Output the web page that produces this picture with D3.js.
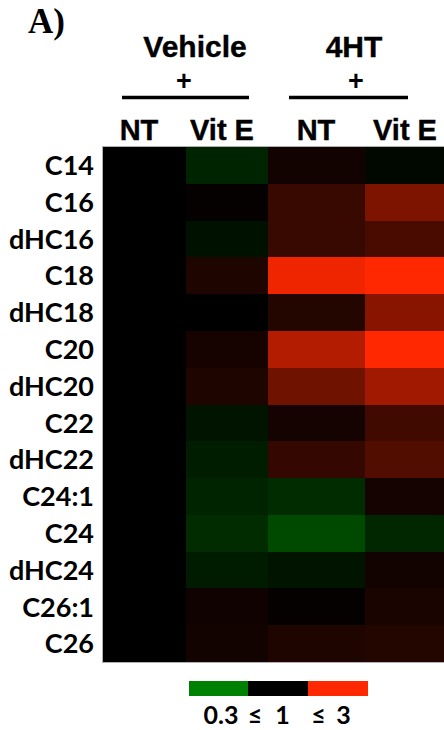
<!DOCTYPE html>
<html><head><meta charset="utf-8">
<script src="https://cdn.jsdelivr.net/npm/d3@7/dist/d3.min.js"></script>
<style>html,body{margin:0;padding:0;background:#fff;overflow:hidden}</style>
</head><body><svg id="chart" width="444" height="730"></svg>
<script>
// ---- data ----
const rows = ["C14","C16","dHC16","C18","dHC18","C20","dHC20","C22","dHC22","C24:1","C24","dHC24","C26:1","C26"];
const columns = ["NT","Vit E","NT","Vit E"];
const groups = ["Vehicle","4HT"];
// fold change vs Vehicle NT
const vehicleNT  = [1,1,1,1,1,1,1,1,1,1,1,1,1,1];
const vehicleVitE = [0.72,1.02,0.85,1.14,1.0,1.10,1.14,0.83,0.76,0.72,0.66,0.77,1.07,1.08];
const ht4NT      = [1.08,1.27,1.27,2.8,1.17,2.16,1.62,1.09,1.25,0.66,0.5,0.83,1.02,1.14];
const ht4VitE    = [0.93,1.71,1.37,3.0,1.79,3.0,2.0,1.32,1.41,1.09,0.69,1.08,1.12,1.17];
const legendTicks = ["0.3","≤","1","≤","3"];
const legendStops = [0.3,1,3];

const series = [vehicleNT, vehicleVitE, ht4NT, ht4VitE];

const svg = d3.select("#chart");
const yTop = 147, yBottom = 662;
const colX = d3.scaleLinear().domain([0,1,2,3,4]).range([103,186,268,365,446]);
const y = d3.scaleBand().domain(rows).range([yTop,yBottom]);
const color = d3.scaleLog().domain(legendStops).range(["#008000","#000000","#ff2800"]).clamp(true);

// cells
const cells = [];
series.forEach((vals,ci)=>vals.forEach((v,ri)=>cells.push({ci,row:rows[ri],v})));
svg.append("g").attr("shape-rendering","crispEdges").selectAll("rect").data(cells).join("rect")
  .attr("x",d=>colX(d.ci)).attr("width",d=>colX(d.ci+1)-colX(d.ci))
  .attr("y",d=>Math.round(y(d.row))).attr("height",d=>Math.round(y(d.row)+y.bandwidth())-Math.round(y(d.row)))
  .attr("fill",d=>color(d.v));
// border
svg.append("rect").attr("x",colX(0)-0.5).attr("y",yTop-0.5).attr("width",446-colX(0)+2).attr("height",yBottom-yTop+1)
  .attr("fill","none").attr("stroke","#b0b0b0").attr("stroke-width",1);

// row labels
svg.append("g").selectAll("text").data(rows).join("text")
  .attr("x",94).attr("y",d=>y(d)+y.bandwidth()/2).attr("dy","0.36em")
  .attr("text-anchor","end").attr("font-family","Lato, 'Open Sans', sans-serif")
  .attr("font-weight","bold").attr("font-size",27).attr("fill","#000").text(d=>d);

// column labels
const colCenters = [139,222,316,405];
svg.append("g").selectAll("text").data(columns).join("text")
  .attr("x",(d,i)=>colCenters[i]).attr("y",140).attr("text-anchor","middle")
  .attr("font-family","'Liberation Sans', Arial, sans-serif").attr("font-weight","bold")
  .attr("font-size",29).attr("stroke","#000").attr("stroke-width",0.4).text(d=>d);

// group labels
const groupLayout = [{cx:195,px:184,x1:122,x2:249},{cx:354,px:356,x1:289,x2:408}];
groups.forEach((g,i)=>{
  const L = groupLayout[i];
  svg.append("text").attr("x",L.cx).attr("y",57).attr("text-anchor","middle")
    .attr("font-family","'Liberation Sans', Arial, sans-serif").attr("font-weight","bold").attr("font-size",30)
    .attr("stroke","#000").attr("stroke-width",0.4).text(g);
  svg.append("text").attr("x",L.px).attr("y",90).attr("text-anchor","middle")
    .attr("font-family","'Liberation Sans', Arial, sans-serif").attr("font-weight","bold").attr("font-size",27).text("+");
  svg.append("line").attr("x1",L.x1).attr("x2",L.x2).attr("y1",97.5).attr("y2",97.5)
    .attr("stroke","#000").attr("stroke-width",3.5);
});

// panel letter
svg.append("text").attr("x",28).attr("y",33).attr("font-family","'Liberation Serif', 'Times New Roman', serif")
  .attr("font-weight","bold").attr("font-size",35).text("A)");

// legend
const lx = d3.scaleLinear().domain([0,3]).range([189,367]);
svg.append("g").attr("shape-rendering","crispEdges").selectAll("rect").data(legendStops).join("rect")
  .attr("x",(d,i)=>lx(i)).attr("width",lx(1)-lx(0)+0.5).attr("y",681).attr("height",15)
  .attr("fill",d=>color(d));
const tickX = [221,255,282.5,318.5,343.5];
svg.append("g").selectAll("text").data(legendTicks).join("text")
  .attr("x",(d,i)=>tickX[i]).attr("y",724).attr("text-anchor","middle")
  .attr("font-family","Lato, 'Open Sans', sans-serif").attr("font-weight","bold").attr("font-size",25)
  .text(d=>d);
</script></body></html>
